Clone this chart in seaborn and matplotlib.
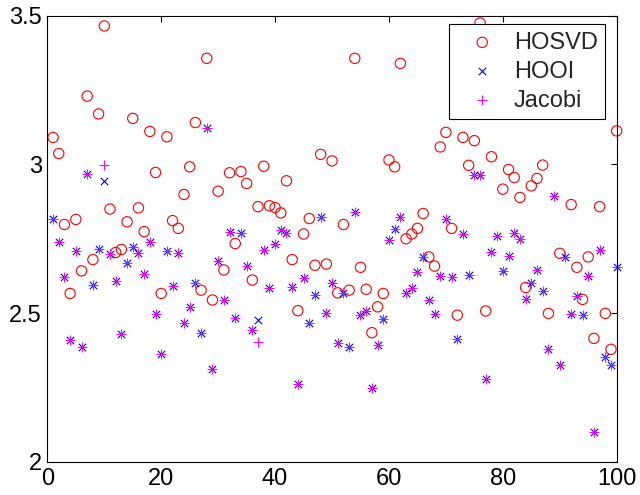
import matplotlib
matplotlib.use("Agg")
import matplotlib.pyplot as plt
import seaborn as sns
from matplotlib.ticker import FormatStrFormatter

# experiment index 1..100
idx = list(range(1, 101))

hosvd = [3.091, 3.037, 2.798, 2.566, 2.815, 2.642, 3.230, 2.680, 3.170, 3.466,
         2.850, 2.704, 2.714, 2.807, 3.155, 2.854, 2.774, 3.111, 2.973, 2.566,
         3.093, 2.811, 2.785, 2.899, 2.992, 3.141, 2.577, 3.357, 2.544, 2.910,
         2.645, 2.972, 2.734, 2.976, 2.936, 2.611, 2.858, 2.994, 2.861, 2.855,
         2.837, 2.945, 2.680, 2.508, 2.766, 2.818, 2.661, 3.034, 2.665, 3.012,
         2.568, 2.798, 2.577, 3.357, 2.654, 2.580, 2.434, 2.521, 2.566, 3.015,
         2.992, 3.340, 2.750, 2.766, 2.785, 2.835, 2.689, 2.658, 3.059, 3.108,
         2.785, 2.493, 3.091, 2.997, 3.080, 3.476, 2.507, 3.026, 3.300, 2.917,
         2.983, 2.956, 2.889, 2.586, 2.928, 2.953, 2.998, 2.499, 3.250, 2.701,
         3.350, 2.865, 2.654, 2.546, 2.689, 2.415, 2.858, 2.499, 2.378, 3.113]

hooi = [2.818, 2.740, 2.622, 2.409, 2.710, 2.387, 2.967, 2.594, 2.714, 2.945,
        2.698, 2.609, 2.429, 2.667, 2.721, 2.703, 2.633, 2.740, 2.497, 2.362,
        2.710, 2.591, 2.701, 2.465, 2.521, 2.602, 2.432, 3.121, 2.312, 2.676,
        2.544, 2.774, 2.485, 2.770, 2.658, 2.443, 2.476, 2.712, 2.586, 2.732,
        2.781, 2.768, 2.588, 2.261, 2.617, 2.467, 2.561, 2.824, 2.501, 2.600,
        2.400, 2.568, 2.385, 2.839, 2.493, 2.508, 2.249, 2.392, 2.480, 2.746,
        2.784, 2.822, 2.568, 2.583, 2.638, 2.689, 2.544, 2.497, 2.626, 2.816,
        2.620, 2.412, 2.767, 2.628, 2.966, 2.966, 2.277, 2.704, 2.759, 2.642,
        2.692, 2.770, 2.748, 2.546, 2.601, 2.645, 2.575, 2.378, 2.893, 2.325,
        2.689, 2.497, 2.557, 2.493, 2.624, 2.101, 2.712, 2.351, 2.325, 2.654]

jacobi = [2.818, 2.740, 2.622, 2.409, 2.710, 2.387, 2.967, 2.594, 2.714, 2.998,
          2.698, 2.609, 2.429, 2.667, 2.721, 2.703, 2.633, 2.740, 2.497, 2.362,
          2.710, 2.591, 2.701, 2.465, 2.521, 2.602, 2.432, 3.121, 2.312, 2.676,
          2.544, 2.774, 2.485, 2.770, 2.658, 2.443, 2.401, 2.712, 2.586, 2.732,
          2.781, 2.768, 2.588, 2.261, 2.617, 2.467, 2.561, 2.824, 2.501, 2.600,
          2.400, 2.568, 2.385, 2.839, 2.493, 2.508, 2.249, 2.392, 2.480, 2.746,
          2.784, 2.822, 2.568, 2.583, 2.638, 2.689, 2.544, 2.497, 2.626, 2.816,
          2.620, 2.412, 2.767, 2.628, 2.966, 2.966, 2.277, 2.704, 2.759, 2.642,
          2.692, 2.770, 2.748, 2.546, 2.601, 2.645, 2.575, 2.378, 2.893, 2.325,
          2.689, 2.497, 2.557, 2.493, 2.624, 2.101, 2.712, 2.351, 2.325, 2.654]

x_ticks = [0, 20, 40, 60, 80, 100]
y_ticks = [2, 2.5, 3, 3.5]

sns.set_style("white")
plt.rcParams['font.family'] = ['Liberation Sans', 'DejaVu Sans']

fig, ax = plt.subplots(figsize=(6.4, 4.95), dpi=100)
fig.subplots_adjust(left=0.074, right=0.9636, bottom=0.0673, top=0.968)

# MATLAB-style markers
sns.scatterplot(x=idx, y=hosvd, marker='o', s=55, color='red', facecolor='none',
                edgecolor='red', linewidth=0.8, label='HOSVD', clip_on=False, ax=ax)
sns.scatterplot(x=idx, y=hooi, marker='x', s=28, color='blue',
                linewidth=0.8, label='HOOI', clip_on=False, ax=ax)
sns.scatterplot(x=idx, y=jacobi, marker='+', s=55, color='magenta',
                linewidth=0.8, label='Jacobi', clip_on=False, ax=ax)

ax.set_xlim(0, 100)
ax.set_ylim(2, 3.5)
ax.set_xticks(x_ticks)
ax.set_yticks(y_ticks)
ax.yaxis.set_major_formatter(FormatStrFormatter('%g'))

for sp in ax.spines.values():
    sp.set_color('black')
    sp.set_linewidth(0.8)

ax.tick_params(direction='in', top=True, right=True, length=4, width=0.8,
               labelsize=17, colors='black')
ax.tick_params(axis='x', pad=4.5)
ax.tick_params(axis='y', pad=4)

leg = ax.legend(loc='upper right', bbox_to_anchor=(0.9795, 0.9807),
                borderaxespad=0, fancybox=False, framealpha=1, edgecolor='black',
                fontsize=17, handlelength=2.2, handletextpad=0.25,
                labelspacing=0.3, borderpad=0.3)
leg.get_frame().set_linewidth(0.8)

fig.savefig('out.png', dpi=100)
